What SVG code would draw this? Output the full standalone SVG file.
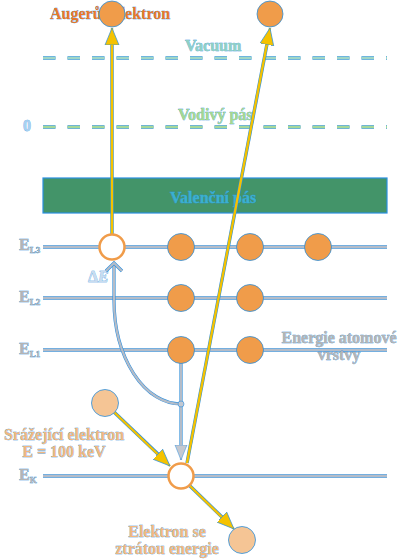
<svg xmlns="http://www.w3.org/2000/svg" width="400" height="560" viewBox="0 0 400 560">
<defs>
<style>
text{font-family:"Liberation Serif","DejaVu Serif",serif;font-weight:bold;font-size:16px;stroke:#2a8fe0;stroke-width:0.45;paint-order:stroke;}
.lvl-o{stroke:#2a8fe0;stroke-width:3.6;fill:none}
.lvl{stroke:#b4bcc8;stroke-width:2.4;fill:none}
.dash-o{stroke:#2a8fe0;stroke-width:3.6;stroke-dasharray:12.5 12;fill:none}
.e{fill:#f09c4a;stroke:#2a8fe0;stroke-width:0.8}
.hole{fill:#ffffff;stroke:#f09c4a;stroke-width:2.5}
.light{fill:#f5c595;stroke:#2a8fe0;stroke-width:0.8}
.y{stroke:#f5c200;stroke-width:2.4;fill:none}
.yo{stroke:#2a8fe0;stroke-width:3.4;fill:none}
.g{stroke:#b4bcc8;stroke-width:2.2;fill:none}
.go{stroke:#2a8fe0;stroke-width:3.2;fill:none}
.lab{fill:#b4b4b4}
.sub{font-size:9px}
.org{fill:#f0b880}
</style>
<marker id="ya" markerUnits="userSpaceOnUse" markerWidth="18" markerHeight="16" viewBox="0 0 18 16" refX="17" refY="8" orient="auto">
<path d="M0,1 L17,8 L0,15 Z" fill="#f5c200" stroke="#2a8fe0" stroke-width="0.7"/>
</marker>
<marker id="ga" markerUnits="userSpaceOnUse" markerWidth="16" markerHeight="14" viewBox="0 0 16 14" refX="15" refY="7" orient="auto">
<path d="M0,1 L15,7 L0,13 Z" fill="#c4c8d0" stroke="#2a8fe0" stroke-width="0.5"/>
</marker>
</defs>
<rect width="400" height="560" fill="#ffffff"/>

<g id="levels">
<line class="dash-o" x1="43" y1="58" x2="387" y2="58"/>
<line x1="43" y1="58" x2="387" y2="58" stroke="#a0d6c6" stroke-width="2.6" stroke-dasharray="12.5 12"/>
<line class="dash-o" x1="43" y1="127" x2="387" y2="127"/>
<line x1="43" y1="127" x2="387" y2="127" stroke="#a4d89a" stroke-width="2.6" stroke-dasharray="12.5 12"/>
<rect x="43" y="178" width="344" height="35" fill="#439469" stroke="#2a8fe0" stroke-width="1.2"/>
<line class="lvl-o" x1="43" y1="247" x2="387" y2="247"/><line class="lvl" x1="43" y1="247" x2="387" y2="247"/>
<line class="lvl-o" x1="43" y1="298" x2="387" y2="298"/><line class="lvl" x1="43" y1="298" x2="387" y2="298"/>
<line class="lvl-o" x1="43" y1="350" x2="387" y2="350"/><line class="lvl" x1="43" y1="350" x2="387" y2="350"/>
<line class="lvl-o" x1="43" y1="476" x2="387" y2="476"/><line class="lvl" x1="43" y1="476" x2="387" y2="476"/>
</g>

<g id="labels">
<text x="185" y="51" fill="#8fd0c4">Vacuum</text>
<text x="178" y="120" fill="#a4d890">Vodivý pás</text>
<text x="23" y="131" fill="#a8d0f0" font-weight="normal">0</text>
<text x="170" y="203" fill="#3ab0d0" stroke="none">Valenční pás</text>
<text x="19" y="250" class="lab" font-size="15">E<tspan class="sub" dy="3">L3</tspan></text>
<text x="19" y="302" class="lab" font-size="15">E<tspan class="sub" dy="3">L2</tspan></text>
<text x="19" y="354" class="lab" font-size="15">E<tspan class="sub" dy="3">L1</tspan></text>
<text x="19" y="480" class="lab" font-size="15">E<tspan class="sub" dy="3">K</tspan></text>
<text x="88" y="282" fill="#c8dcef" font-weight="normal">Δ<tspan font-style="italic">E</tspan></text>
<text x="339" y="343" class="lab" text-anchor="middle">Energie atomové</text>
<text x="339" y="360" class="lab" text-anchor="middle">vrstvy</text>
<text x="64" y="440" class="org" text-anchor="middle" font-size="16.5">Srážející elektron</text>
<text x="64" y="457" class="org" text-anchor="middle" font-size="16.5">E = 100 keV</text>
<text x="167" y="537" class="org" text-anchor="middle">Elektron se</text>
<text x="167" y="554" class="org" text-anchor="middle">ztrátou energie</text>
<text x="50" y="19" fill="#e8782a">Augerův elektron</text>
</g>

<g id="connectors">
<line class="go" x1="181" y1="363" x2="181" y2="446"/>
<line class="g" x1="181" y1="363" x2="181" y2="460" marker-end="url(#ga)"/>
<path class="go" d="M181,404 A67,104 0 0 1 114,300 L114,263"/>
<path class="g" d="M181,404 A67,104 0 0 1 114,300 L114,263"/>
<polyline class="go" points="106,271 114,263 122,271"/>
<polyline class="g" points="106,271 114,263 122,271"/>
<circle cx="181" cy="404" r="3" fill="#c4c8d0" stroke="#2a8fe0" stroke-width="0.6"/>
<line class="yo" x1="112" y1="234" x2="112" y2="44"/>
<line class="y" x1="112" y1="234" x2="112" y2="28" marker-end="url(#ya)"/>
<line class="yo" x1="187" y1="463" x2="267" y2="44"/>
<line class="y" x1="187" y1="463" x2="270" y2="28" marker-end="url(#ya)"/>
<line class="yo" x1="114" y1="412" x2="159" y2="455"/>
<line class="y" x1="114" y1="412" x2="170" y2="466" marker-end="url(#ya)"/>
<line class="yo" x1="190" y1="486" x2="223" y2="518"/>
<line class="y" x1="190" y1="486" x2="234" y2="529" marker-end="url(#ya)"/>
</g>

<g id="electrons">
<circle id="auger" class="e" cx="112" cy="14" r="13"/>
<circle id="top2" class="e" cx="270" cy="14" r="13"/>
<circle id="l3hole" class="hole" cx="112" cy="247" r="12.5"/>
<circle class="e" cx="181" cy="247" r="13.5"/>
<circle class="e" cx="250" cy="247" r="13.5"/>
<circle class="e" cx="318" cy="247" r="13.5"/>
<circle class="e" cx="181" cy="298" r="13.5"/>
<circle class="e" cx="250" cy="298" r="13.5"/>
<circle class="e" cx="181" cy="350" r="13.5"/>
<circle class="e" cx="250" cy="350" r="13.5"/>
<circle id="incoming" class="light" cx="105" cy="403" r="13.5"/>
<circle id="khole" class="hole" cx="181" cy="476" r="12.5"/>
<circle id="outgoing" class="light" cx="242" cy="540" r="13.5"/>
</g>
</svg>
